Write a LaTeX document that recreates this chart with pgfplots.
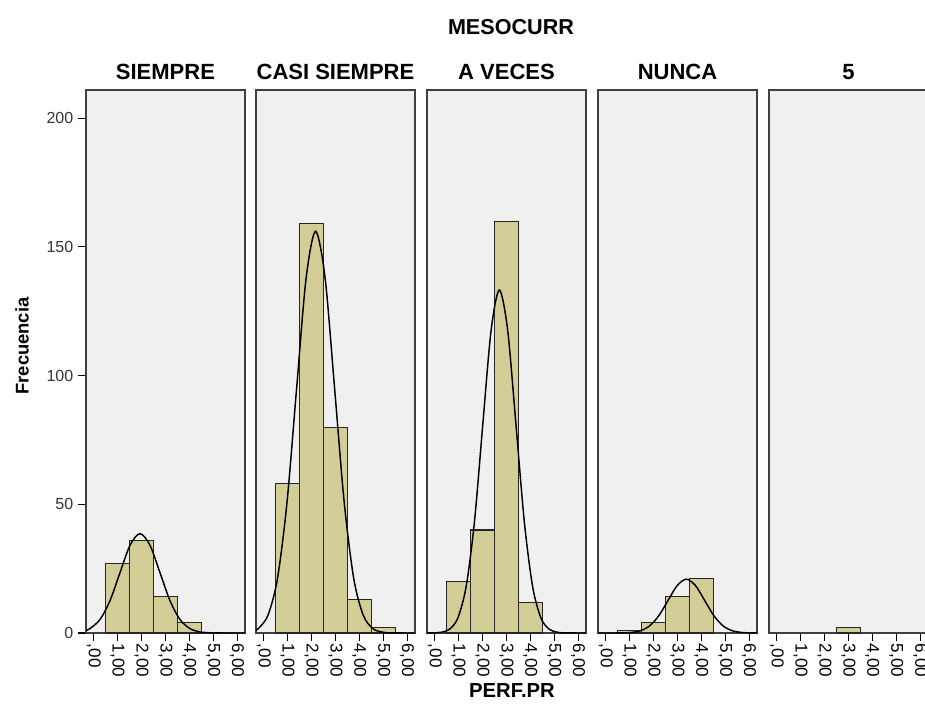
\documentclass[border=0pt]{standalone}
\usepackage{pgfplots}
\pgfplotsset{compat=1.18}
\usepackage{fontspec}
\setmainfont{Liberation Sans}
\definecolor{bggray}{HTML}{F0F0F0}
\definecolor{barfill}{HTML}{D3CE97}
\definecolor{frame}{HTML}{404040}
\pgfplotsset{
  panel/.style={
    scale only axis, width=119.25pt, height=407.25pt,
    anchor=north west,
    xmin=-0.32, xmax=6.33, ymin=0, ymax=210.9,
    axis background/.style={fill=bggray},
    axis line style={frame, line width=1.3pt},
    tick style={black, line width=0.8pt},
    major tick length=6pt,
    tick align=outside,
    xtick={0,1,2,3,4,5,6},
    xticklabels={{,00},{1,00},{2,00},{3,00},{4,00},{5,00},{6,00}},
    xtick pos=lower,
    ytick=\empty,
    /pgf/number format/assume math mode=true,
    x tick label style={rotate=-90, anchor=west, font=\fontsize{12.8}{14}\selectfont, inner sep=2pt},
    y tick label style={font=\fontsize{12}{14}\selectfont, text=black!80},
    clip=true,
  },
  bars/.style={ybar, bar width=1, fill=barfill, draw=black!85, line width=0.8pt},
  curve/.style={smooth, black, line width=1.1pt, mark=none},
}
\begin{document}
\begin{tikzpicture}
% Panel 1: SIEMPRE
\begin{axis}[panel, at={(64.5pt,-67.5pt)}, ytick={0,50,100,150,200}, ytick pos=left]
\addplot[bars] coordinates {(1,27) (2,36) (3,14) (4,4)};
\addplot[curve] coordinates {(-0.32,1.02) (-0.155,1.70) (0.264,5.22) (0.683,12.53) (1.101,23.41) (1.520,34.06) (1.938,38.6) (2.357,34.06) (2.775,23.41) (3.194,12.53) (3.612,5.22) (4.031,1.70) (4.449,0.43) (4.868,0.084) (5.286,0.013) (6.33,0)};
\end{axis}
% Panel 2: CASI SIEMPRE
\begin{axis}[panel, at={(192pt,-67.5pt)}]
\addplot[bars] coordinates {(1,58) (2,159) (3,80) (4,13) (5,2)};
\addplot[curve] coordinates {(-0.32,1.25) (-0.221,1.73) (0.178,6.85) (0.577,21.1) (0.976,50.65) (1.375,94.6) (1.774,137.7) (2.173,156.0) (2.572,137.7) (2.971,94.6) (3.370,50.65) (3.769,21.1) (4.168,6.85) (4.567,1.73) (4.966,0.34) (5.365,0.05) (6.33,0)};
\end{axis}
% Panel 3: A VECES
\begin{axis}[panel, at={(320.25pt,-67.5pt)}]
\addplot[bars] coordinates {(1,20) (2,40) (3,160) (4,12)};
\addplot[curve] coordinates {(-0.32,0.01) (-0.073,0.045) (0.275,0.29) (0.622,1.48) (0.970,5.85) (1.317,18.02) (1.665,43.25) (2.012,80.8) (2.360,117.5) (2.707,133.2) (3.055,117.5) (3.402,80.8) (3.750,43.25) (4.097,18.02) (4.445,5.85) (4.792,1.48) (5.140,0.29) (5.487,0.045) (6.33,0)};
\end{axis}
% Panel 4: NUNCA
\begin{axis}[panel, at={(448.5pt,-67.5pt)}]
\addplot[bars] coordinates {(1,1) (2,4) (3,14) (4,21)};
\addplot[curve] coordinates {(-0.32,0) (0.319,0.007) (0.701,0.046) (1.083,0.232) (1.465,0.918) (1.847,2.83) (2.229,6.79) (2.611,12.68) (2.993,18.44) (3.375,20.9) (3.757,18.44) (4.139,12.68) (4.521,6.79) (4.903,2.83) (5.285,0.918) (5.667,0.232) (6.049,0.046) (6.33,0.01)};
\end{axis}
% Panel 5: 5
\begin{axis}[panel, at={(576.75pt,-67.5pt)}]
\addplot[bars] coordinates {(3,2)};
\end{axis}
% Titles
\node[font=\bfseries\fontsize{16.2}{18}\selectfont] at (383.25pt,-20.25pt) {MESOCURR};
\begin{scope}[every node/.style={font=\bfseries\fontsize{16.5}{18}\selectfont}]
\node at (124.1pt,-54pt) {SIEMPRE};
\node at (251.6pt,-54pt) {CASI SIEMPRE};
\node at (379.9pt,-54pt) {A VECES};
\node at (508.1pt,-54pt) {NUNCA};
\node at (636.4pt,-54pt) {5};
\end{scope}
\node[font=\bfseries\fontsize{15.2}{17}\selectfont] at (384pt,-518pt) {PERF.PR};
\node[font=\bfseries\fontsize{13.8}{15}\selectfont, rotate=90] at (16.5pt,-259.5pt) {Frecuencia};
\pgfresetboundingbox
\useasboundingbox (0,0) rectangle (693.75pt,-533.25pt);
\end{tikzpicture}
\end{document}
